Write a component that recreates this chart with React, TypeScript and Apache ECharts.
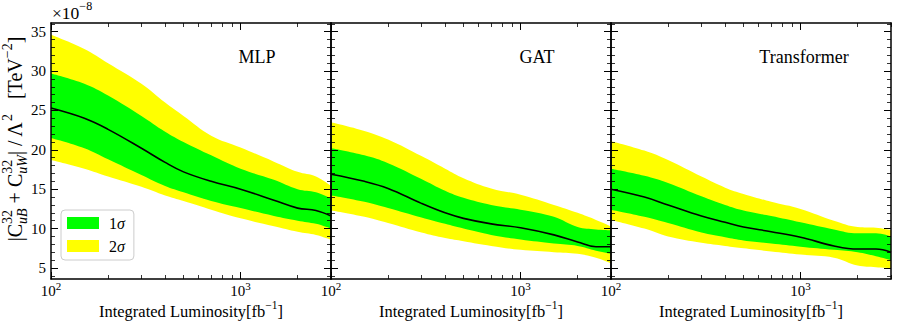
import React, { useEffect, useRef } from 'react';
import * as echarts from 'echarts';

const FONT = 'Liberation Serif, serif';

// ---------- data ----------
const luminosity = [100, 150, 200, 300, 400, 500, 700, 1000, 1500, 2000, 2500, 3000];

const mlpMedian = [25.3, 24.0, 22.6, 20.2, 18.4, 17.2, 16.0, 15.0, 13.6, 12.6, 12.3, 11.6];
const mlpUpper1 = [29.7, 28.4, 26.9, 24.3, 22.3, 21.0, 19.3, 17.6, 16.2, 15.0, 14.6, 13.8];
const mlpLower1 = [21.5, 20.2, 18.8, 16.8, 15.4, 14.6, 13.5, 12.6, 11.6, 11.0, 10.6, 10.0];
const mlpUpper2 = [34.6, 32.8, 31.0, 28.4, 26.0, 24.3, 21.8, 20.3, 18.5, 17.2, 16.6, 15.4];
const mlpLower2 = [18.7, 17.6, 16.6, 15.3, 14.2, 13.5, 12.4, 11.3, 10.3, 9.6, 9.2, 8.6];

const gatMedian = [16.9, 16.0, 15.1, 13.2, 12.0, 11.3, 10.6, 10.1, 9.2, 8.3, 7.7, 7.7];
const gatUpper1 = [20.2, 19.3, 18.3, 16.3, 14.8, 13.9, 13.0, 12.4, 11.5, 10.2, 9.9, 9.8];
const gatLower1 = [14.2, 13.4, 12.6, 11.4, 10.6, 10.0, 9.2, 8.6, 8.1, 7.8, 7.2, 6.8];
const gatUpper2 = [23.5, 22.4, 21.3, 19.2, 17.6, 16.4, 15.1, 14.3, 13.0, 12.0, 11.1, 10.3];
const gatLower2 = [12.3, 11.5, 10.7, 9.5, 8.8, 8.4, 7.8, 7.3, 7.0, 6.8, 6.3, 5.6];

const trMedian = [15.0, 14.0, 13.0, 11.6, 10.8, 10.2, 9.6, 8.9, 7.8, 7.4, 7.4, 7.0];
const trUpper1 = [17.6, 16.7, 15.8, 14.1, 13.0, 12.3, 11.6, 10.8, 9.9, 9.4, 9.4, 9.0];
const trLower1 = [12.4, 11.5, 10.7, 9.5, 8.9, 8.5, 8.1, 7.7, 7.3, 7.0, 6.5, 6.0];
const trUpper2 = [21.1, 19.9, 18.7, 16.6, 15.2, 14.4, 13.4, 12.5, 11.0, 10.2, 10.1, 9.8];
const trLower2 = [11.1, 10.0, 9.0, 8.2, 7.8, 7.5, 7.1, 6.7, 6.3, 5.3, 5.1, 5.0];

const panelTitles = ['MLP', 'GAT', 'Transformer'];
const legendNames = ['1σ', '2σ'];

const xMin = 100;
const xMax = 3000;
const yMin = 3.6;
const yMax = 36.1;
const yMajorTicks = [5, 10, 15, 20, 25, 30, 35];
const yMinorTicks = [4, 6, 7, 8, 9, 11, 12, 13, 14, 16, 17, 18, 19, 21, 22, 23, 24, 26, 27, 28, 29, 31, 32, 33, 34, 36];
const xMajorTicks = [100, 1000];
const xMinorTicks = [200, 300, 400, 500, 600, 700, 800, 900, 2000, 3000];

const panels = [
  { title: panelTitles[0], median: mlpMedian, u1: mlpUpper1, l1: mlpLower1, u2: mlpUpper2, l2: mlpLower2 },
  { title: panelTitles[1], median: gatMedian, u1: gatUpper1, l1: gatLower1, u2: gatUpper2, l2: gatLower2 },
  { title: panelTitles[2], median: trMedian, u1: trUpper1, l1: trLower1, u2: trUpper2, l2: trLower2 },
];

// ---------- layout ----------
const GRID_LEFT = 51;
const GRID_W = 280;
const GRID_TOP = 23;
const GRID_H = 256;
const GREEN = '#00ff00';
const YELLOW = '#ffff00';
const SMOOTH = 0.4;

function measure(text: string, size: number, italic = false) {
  const ctx = document.createElement('canvas').getContext('2d')!;
  ctx.font = `${italic ? 'italic ' : ''}${size}px "Liberation Serif"`;
  return ctx.measureText(text).width;
}

type Piece =
  | { t: string; s: number; dy?: number; it?: boolean }
  | { sup: string; sub: string; s: number; supDy: number; subDy: number };

function txt(t: string, s: number, it: boolean, x: number, y: number) {
  return {
    type: 'text',
    x,
    y,
    style: {
      text: t,
      fontFamily: FONT,
      fontSize: s,
      fontStyle: it ? 'italic' : 'normal',
      fontWeight: 'normal',
      fill: '#000',
      align: 'left',
      verticalAlign: 'middle',
    },
  };
}

function mathText(pieces: Piece[], center: boolean) {
  const kids: any[] = [];
  let x = 0;
  for (const p of pieces) {
    if ('sup' in p) {
      const w1 = measure(p.sup, p.s);
      const w2 = measure(p.sub, p.s, true);
      kids.push(txt(p.sup, p.s, false, x, p.supDy));
      kids.push(txt(p.sub, p.s, true, x, p.subDy));
      x += Math.max(w1, w2);
    } else {
      kids.push(txt(p.t, p.s, !!p.it, x, p.dy || 0));
      x += measure(p.t, p.s, !!p.it);
    }
  }
  if (center) kids.forEach((k) => (k.x -= x / 2));
  return kids;
}

function buildOption() {
  const lg = Math.log10;
  const grid: any[] = [];
  const xAxis: any[] = [];
  const yAxis: any[] = [];
  const series: any[] = [];
  const graphic: any[] = [];

  const tickLine = { color: '#000', width: 1 };
  const minorLine = { color: '#000', width: 0.8 };
  const borderLine = { show: true, lineStyle: { color: '#000', width: 1.5 } };

  panels.forEach((p, g) => {
    const left = GRID_LEFT + GRID_W * g;
    grid.push({ left, top: GRID_TOP, width: GRID_W, height: GRID_H, containLabel: false });

    // x axes: data (log) + tick overlays
    xAxis.push({ gridIndex: g, type: 'log', logBase: 10, min: xMin, max: xMax, show: false });
    xAxis.push({
      gridIndex: g, type: 'value', min: lg(xMin), max: lg(xMax), position: 'bottom', z: 10,
      axisLine: borderLine,
      axisTick: { show: true, inside: true, length: 7, customValues: xMajorTicks.map(lg), lineStyle: tickLine },
      axisLabel: {
        show: true, customValues: xMajorTicks.map(lg), margin: 1,
        formatter: (v: number) => `{b|10}{s|${Math.round(v)}}`,
        rich: {
          b: { fontFamily: FONT, fontSize: 15, color: '#000', lineHeight: 21 },
          s: { fontFamily: FONT, fontSize: 11, color: '#000', lineHeight: 11, verticalAlign: 'top' },
        },
      },
      splitLine: { show: false },
    });
    xAxis.push({
      gridIndex: g, type: 'value', min: lg(xMin), max: lg(xMax), position: 'bottom', z: 10,
      axisLine: { show: false },
      axisTick: { show: true, inside: true, length: 4, customValues: xMinorTicks.map(lg), lineStyle: minorLine },
      axisLabel: { show: false }, splitLine: { show: false },
    });
    xAxis.push({
      gridIndex: g, type: 'value', min: lg(xMin), max: lg(xMax), position: 'top', z: 10,
      axisLine: borderLine,
      axisTick: { show: true, inside: true, length: 7, customValues: xMajorTicks.map(lg), lineStyle: tickLine },
      axisLabel: { show: false }, splitLine: { show: false },
    });
    xAxis.push({
      gridIndex: g, type: 'value', min: lg(xMin), max: lg(xMax), position: 'top', z: 10,
      axisLine: { show: false },
      axisTick: { show: true, inside: true, length: 4, customValues: xMinorTicks.map(lg), lineStyle: minorLine },
      axisLabel: { show: false }, splitLine: { show: false },
    });

    // y axes
    yAxis.push({
      gridIndex: g, type: 'value', min: yMin, max: yMax, position: 'left', z: 10,
      axisLine: borderLine,
      axisTick: { show: true, inside: true, length: 7, customValues: yMajorTicks, lineStyle: tickLine },
      axisLabel: { show: g === 0, customValues: yMajorTicks, margin: 5, fontFamily: FONT, fontSize: 15, color: '#000' },
      splitLine: { show: false },
    });
    yAxis.push({
      gridIndex: g, type: 'value', min: yMin, max: yMax, position: 'left', z: 10,
      axisLine: { show: false },
      axisTick: { show: true, inside: true, length: 4, customValues: yMinorTicks, lineStyle: minorLine },
      axisLabel: { show: false }, splitLine: { show: false },
    });
    yAxis.push({
      gridIndex: g, type: 'value', min: yMin, max: yMax, position: 'right', z: 10,
      axisLine: borderLine,
      axisTick: { show: true, inside: true, length: 7, customValues: yMajorTicks, lineStyle: tickLine },
      axisLabel: { show: false }, splitLine: { show: false },
    });
    yAxis.push({
      gridIndex: g, type: 'value', min: yMin, max: yMax, position: 'right', z: 10,
      axisLine: { show: false },
      axisTick: { show: true, inside: true, length: 4, customValues: yMinorTicks, lineStyle: minorLine },
      axisLabel: { show: false }, splitLine: { show: false },
    });

    const xi = g * 5;
    const yi = g * 4;
    const pts = (arr: number[]) => luminosity.map((L, i) => [L, arr[i]]);
    const band = (name: string, arr: number[], fill: string) => ({
      type: 'line', name, xAxisIndex: xi, yAxisIndex: yi, data: pts(arr),
      smooth: SMOOTH, showSymbol: false, symbol: 'none', silent: true,
      lineStyle: { width: 0, opacity: 0 },
      itemStyle: { color: fill },
      areaStyle: { color: fill, opacity: 1, origin: 'start' },
      z: 2,
    });
    series.push(band('2σ', p.u2, YELLOW));
    series.push(band('1σ', p.u1, GREEN));
    series.push(band('lower 1σ', p.l1, YELLOW));
    series.push(band('lower 2σ', p.l2, '#ffffff'));
    series.push({
      type: 'line', name: 'median', xAxisIndex: xi, yAxisIndex: yi, data: pts(p.median),
      smooth: SMOOTH, showSymbol: false, symbol: 'none', silent: true,
      lineStyle: { color: '#000', width: 1.6 },
      itemStyle: { color: '#000' },
      z: 3,
    });

    // panel title
    const titleX = [257, 537, 804][g];
    graphic.push({
      type: 'text', x: titleX, y: 57, z: 20,
      style: { text: p.title, fontFamily: FONT, fontSize: 18, fontWeight: 'normal', fill: '#000', align: 'center', verticalAlign: 'middle' },
    });

    // x axis name
    graphic.push({
      type: 'group', x: left + GRID_W / 2, y: 311, z: 20,
      children: mathText(
        [
          { t: 'Integrated Luminosity', s: 16.5 },
          { t: '[fb', s: 16.5 },
          { t: '−1', s: 11.5, dy: -6 },
          { t: ']', s: 16.5 },
        ],
        true
      ),
    });
  });

  // y axis name (rotated)
  graphic.push({
    type: 'group', x: 15, y: 139, rotation: Math.PI / 2, z: 20,
    children: mathText(
      [
        { t: '|C', s: 20 },
        { sup: '32', sub: 'uB', s: 14, supDy: -8, subDy: 7 },
        { t: ' + C', s: 20 },
        { sup: '32', sub: 'uW', s: 14, supDy: -8, subDy: 7 },
        { t: '| / Λ', s: 20 },
        { t: '2', s: 14, dy: -8 },
        { t: '   [TeV', s: 20 },
        { t: '−2', s: 14, dy: -8 },
        { t: ']', s: 20 },
      ],
      true
    ),
  });

  // ×10^-8 multiplier
  graphic.push({
    type: 'group', x: 52, y: 13, z: 20,
    children: mathText(
      [
        { t: '×10', s: 17.5 },
        { t: '−8', s: 12, dy: -7 },
      ],
      false
    ),
  });

  return {
    animation: false,
    backgroundColor: '#ffffff',
    grid,
    xAxis,
    yAxis,
    series,
    graphic: { elements: graphic },
    legend: {
      data: legendNames,
      orient: 'vertical',
      left: 61,
      top: 210,
      icon: 'rect',
      itemWidth: 32,
      itemHeight: 12,
      itemGap: 5,
      padding: [4, 9, 5, 6],
      backgroundColor: 'rgba(255,255,255,0.85)',
      borderColor: '#cccccc',
      borderWidth: 1,
      borderRadius: 4,
      selectedMode: false,
      itemStyle: { borderWidth: 0 },
      z: 20,
      formatter: (name: string) => `{n|${name.charAt(0)}}{g|σ}`,
      textStyle: {
        lineHeight: 18,
        rich: {
          n: { fontFamily: FONT, fontSize: 16, color: '#000', padding: [0, 0, 0, 5] },
          g: { fontFamily: FONT, fontSize: 16, color: '#000', fontStyle: 'italic' },
        },
      },
    },
  };
}

export default function App() {
  const ref = useRef<HTMLDivElement>(null);
  useEffect(() => {
    const chart = echarts.init(ref.current!, null, { renderer: 'svg' });
    chart.setOption(buildOption() as any);
    return () => chart.dispose();
  }, []);
  return (
    <div
      ref={ref}
      style={{ position: 'fixed', left: 0, top: 0, width: 897, height: 328, background: '#fff' }}
    />
  );
}
